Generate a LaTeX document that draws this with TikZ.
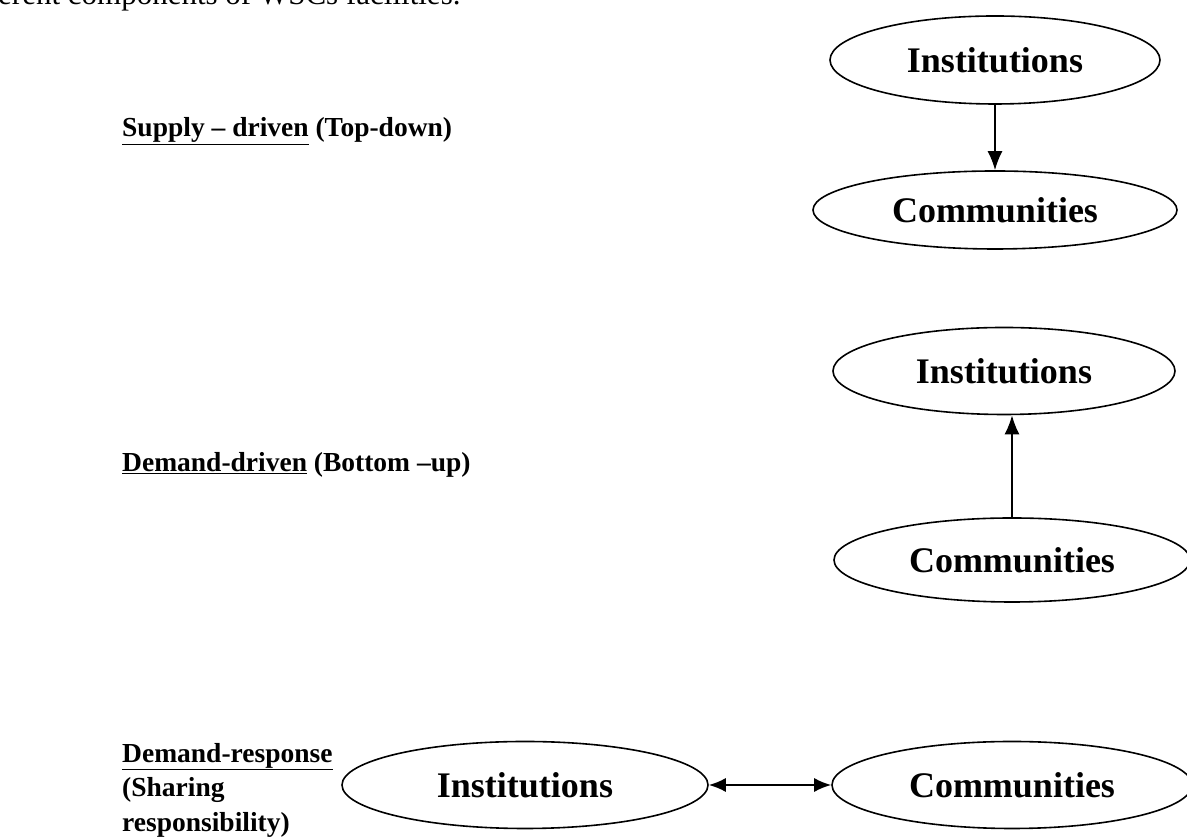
\documentclass[tikz,border=0pt]{standalone}
\usepackage{fontspec}
\setmainfont{Liberation Serif}
\usetikzlibrary{arrows.meta,shapes.geometric}
\tikzstyle{arrow} = [line width=1.8pt,->,>={Latex[length=19pt,width=15pt]}]
\tikzstyle{dbarrow} = [line width=1.8pt,<->,>={Latex[length=17pt,width=14pt]}]
\tikzstyle{oval}=[draw, ellipse, line width=1.6pt, inner sep=0pt, font=\fontsize{36}{40}\selectfont\bfseries]
\tikzstyle{heading}=[inner sep=0pt, font=\fontsize{27.5}{34.5}\selectfont\bfseries]

\begin{document}
\begin{tikzpicture}[x=1pt,y=1pt]
    \useasboundingbox (0,0) rectangle (1187,840);
    % cut-off line of the page above
    \node (txt) [anchor=base west, inner sep=0pt, font=\fontsize{31}{36}\selectfont] at (-2,835) {erent components of WSCs facilities.};

    % top-down
    \node (sup) [heading, anchor=west] at (122,709) {\underline{Supply – driven} (Top-down)};
    \node (i1) [oval, minimum width=330pt, minimum height=88pt] at (995,780) {Institutions};
    \node (c1) [oval, minimum width=364pt, minimum height=78pt, node distance=150pt, below of=i1] {Communities};
    \draw [arrow] (i1) -- (c1);

    % bottom-up
    \node (dem) [heading, anchor=west] at (122,375) {\underline{Demand-driven} (Bottom –up)};
    \node (i2) [oval, minimum width=342pt, minimum height=87pt] at (1004,469) {Institutions};
    \node (c2) [oval, minimum width=356pt, minimum height=84pt, node distance=189pt, below of=i2, xshift=8pt] {Communities};
    \draw [arrow] (c2.north) -- (c2.north |- i2.south);

    % shared
    \node (res) [heading, anchor=north west, align=left] at (122,97) {\underline{Demand-response}\\(Sharing\\responsibility)};
    \node (i3) [oval, minimum width=366pt, minimum height=87pt] at (525,55) {Institutions};
    \node (c3) [oval, minimum width=360pt, minimum height=87pt, node distance=487pt, right of=i3] {Communities};
    \draw [dbarrow] (i3) -- (c3);
\end{tikzpicture}
\end{document}
